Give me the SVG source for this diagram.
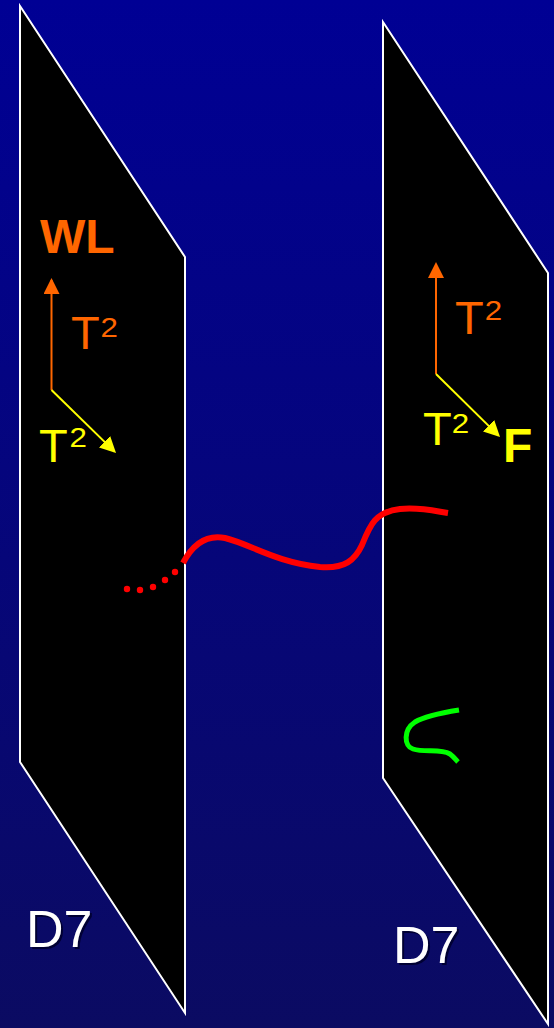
<svg xmlns="http://www.w3.org/2000/svg" width="554" height="1028" viewBox="0 0 554 1028">
<defs>
<linearGradient id="bg" x1="0" y1="0" x2="0" y2="1">
<stop offset="0" stop-color="#000094"/>
<stop offset="1" stop-color="#0b0b62"/>
</linearGradient>
<marker id="ao" markerWidth="8" markerHeight="8" refX="7" refY="4" orient="auto" markerUnits="strokeWidth">
<path d="M0,0 L8,4 L0,8 Z" fill="#ff6600"/>
</marker>
<marker id="ay" markerWidth="8" markerHeight="8" refX="7" refY="4" orient="auto" markerUnits="strokeWidth">
<path d="M0,0 L8,4 L0,8 Z" fill="#ffff00"/>
</marker>
</defs>
<style>
.panel{fill:#000;stroke:#fff;stroke-width:2;stroke-linejoin:miter}
.lab{font-family:"Liberation Sans",Arial,sans-serif}
.big{font-size:48px;font-weight:bold}
.t{font-size:47px}
.sup{font-size:28px}
.d7{font-size:52px;fill:#fff}
.d7s{font-size:52px;fill:#000033}
.or{fill:#ff6600}
.ye{fill:#ffff00}
</style>
<rect width="554" height="1028" fill="url(#bg)"/>
<g id="panel-left">
<polygon class="panel" points="20,6 185,257 185,1013 20,762"/>
</g>
<g id="panel-right">
<polygon class="panel" points="383,22 548,273 548,1024 383,778"/>
</g>
<g id="connectors">
<line x1="51.5" y1="390" x2="51.5" y2="280" stroke="#ff6600" stroke-width="2" marker-end="url(#ao)"/>
<line x1="51.5" y1="390" x2="114.6" y2="451.6" stroke="#ffff00" stroke-width="2" marker-end="url(#ay)"/>
<line x1="436" y1="374" x2="436" y2="264" stroke="#ff6600" stroke-width="2" marker-end="url(#ao)"/>
<line x1="436" y1="374" x2="498.6" y2="435.6" stroke="#ffff00" stroke-width="2" marker-end="url(#ay)"/>
<path id="red-string" d="M183,563 C195,540 210,535 225,538 C250,544 275,562 320,567 C345,569 355,560 362,545 C370,525 375,512 400,509 C420,507 435,511 448,513" fill="none" stroke="#ff0000" stroke-width="6" stroke-linecap="butt"/>
<g id="red-dots" fill="#ff0000">
<circle cx="127" cy="589" r="3.2"/>
<circle cx="140" cy="590" r="3.2"/>
<circle cx="153" cy="587" r="3.2"/>
<circle cx="165" cy="580" r="3.2"/>
<circle cx="175" cy="572" r="3.2"/>
</g>
<path id="green-string" d="M459,710 C440,713 425,716 415,722 C403,730 404,746 413,749 C425,753 440,748 450,754 C454,757 456,760 458,762" fill="none" stroke="#00ff00" stroke-width="5"/>
</g>
<g id="labels-left" class="lab">
<text class="big or" x="40" y="253">WL</text>
<text class="t or" x="71" y="349">T</text>
<text class="sup or" transform="translate(100.4,337) scale(1.12,1)">2</text>
<text class="t ye" x="39" y="462">T</text>
<text class="sup ye" transform="translate(69.4,447) scale(1.12,1)">2</text>
<text class="d7s" x="28" y="949">D7</text>
<text class="d7" x="26" y="947">D7</text>
</g>
<g id="labels-right" class="lab">
<text class="t or" x="455" y="334">T</text>
<text class="sup or" transform="translate(484.7,320) scale(1.12,1)">2</text>
<text class="t ye" x="423" y="445">T</text>
<text class="sup ye" transform="translate(451.7,433) scale(1.12,1)">2</text>
<text class="big ye" x="503" y="462">F</text>
<text class="d7s" x="395" y="965">D7</text>
<text class="d7" x="393" y="963">D7</text>
</g>
</svg>
